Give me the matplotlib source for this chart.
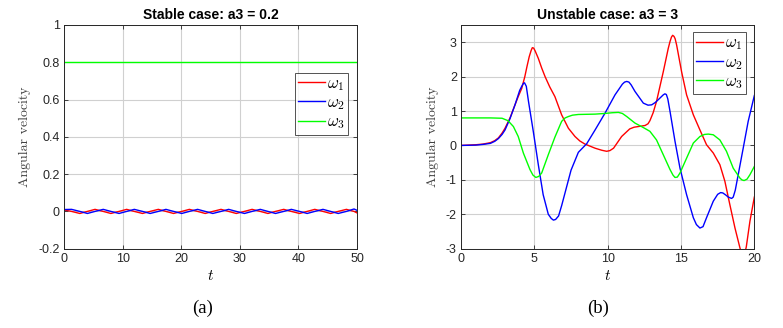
import matplotlib
matplotlib.use("Agg")
import matplotlib.pyplot as plt

# -------------------------------
# DATA
# -------------------------------

# stable case a3 = 0.2, t in [0, 50]
t_stable = [0, 1.3, 2.7, 4.0, 5.3, 6.7, 8.0, 9.4, 10.7, 12.0, 13.4, 14.7,
            16.1, 17.4, 18.7, 20.1, 21.4, 22.8, 24.1, 25.4, 26.8, 28.1,
            29.4, 30.8, 32.1, 33.5, 34.8, 36.1, 37.5, 38.8, 40.2, 41.5,
            42.8, 44.2, 45.5, 46.8, 48.2, 49.5, 50]
w1_stable = [0.008, 0.0, -0.011, 0.0, 0.011, 0.0, -0.011, 0.0, 0.011, 0.0,
             -0.011, 0.0, 0.011, 0.0, -0.011, 0.0, 0.011, 0.0, -0.011, 0.0,
             0.011, 0.0, -0.011, 0.0, 0.011, 0.0, -0.011, 0.0, 0.011, 0.0,
             -0.011, 0.0, 0.011, 0.0, -0.011, 0.0, 0.011, 0.0, -0.008]
w2_stable = [0.01, 0.011, 0.0, -0.011, 0.0, 0.011, 0.0, -0.011, 0.0, 0.011,
             0.0, -0.011, 0.0, 0.011, 0.0, -0.011, 0.0, 0.011, 0.0, -0.011,
             0.0, 0.011, 0.0, -0.011, 0.0, 0.011, 0.0, -0.011, 0.0, 0.011,
             0.0, -0.011, 0.0, 0.011, 0.0, -0.011, 0.0, 0.013, 0.006]
w3_stable = [0.8, 0.8]
t3_stable = [0, 50]

# unstable case a3 = 3, t in [0, 20]
t1_unst = [0, 1.0, 1.5, 2.0, 2.3, 2.55, 2.8, 3.0, 3.34, 3.68, 3.9, 4.14, 4.35,
           4.5, 4.65, 4.78, 4.86, 4.95, 5.05, 5.27, 5.5, 5.73, 6.05, 6.4,
           6.86, 7.32, 7.77, 8.1, 8.45, 9.14, 9.6, 9.93, 10.15, 10.4, 10.95,
           11.5, 11.8, 12.1, 12.55, 12.75, 12.88, 13.1, 13.33, 13.79, 14.13,
           14.25, 14.35, 14.43, 14.52, 14.6, 14.7, 15.04, 15.38, 15.84, 16.29,
           16.74, 17.2, 17.65, 17.99, 18.33, 18.68, 19.02, 19.25, 19.45, 19.7,
           20.0]
w1_unst = [0.0, 0.02, 0.04, 0.08, 0.14, 0.22, 0.36, 0.5, 0.8, 1.18, 1.42, 1.66,
           2.0, 2.3, 2.58, 2.76, 2.84, 2.83, 2.75, 2.53, 2.25, 2.0, 1.7, 1.42,
           0.89, 0.5, 0.26, 0.13, 0.04, -0.08, -0.14, -0.17, -0.15, -0.08,
           0.26, 0.48, 0.53, 0.55, 0.58, 0.63, 0.72, 0.95, 1.28, 2.14, 2.82,
           3.02, 3.15, 3.2, 3.17, 3.1, 2.92, 2.14, 1.47, 0.89, 0.45, 0.02,
           -0.22, -0.56, -1.04, -1.72, -2.4, -2.98, -3.3, -2.95, -2.2, -1.5]

t2_unst = [0, 1.0, 1.5, 2.0, 2.3, 2.55, 2.8, 3.0, 3.34, 3.68, 4.0, 4.14, 4.25,
           4.33, 4.45, 4.6, 4.93, 5.27, 5.6, 5.95, 6.15, 6.3, 6.45, 6.65,
           6.86, 7.09, 7.5, 8.0, 8.57, 9.14, 9.82, 10.5, 11.0, 11.15, 11.3,
           11.45, 11.6, 11.86, 12.43, 12.75, 13.0, 13.25, 13.45, 13.79, 13.9,
           14.0, 14.1, 14.25, 14.59, 14.93, 15.38, 15.84, 16.05, 16.29, 16.5,
           16.74, 17.2, 17.5, 17.7, 17.85, 18.05, 18.22, 18.45, 18.56, 18.7,
           18.9, 19.24, 19.58, 20.0]
w2_unst = [0.0, 0.01, 0.03, 0.06, 0.12, 0.2, 0.32, 0.45, 0.78, 1.18, 1.6, 1.72,
           1.8, 1.82, 1.72, 1.28, 0.4, -0.56, -1.43, -2.0, -2.12, -2.17,
           -2.15, -2.05, -1.75, -1.38, -0.72, -0.2, 0.05, 0.45, 0.94, 1.47,
           1.78, 1.84, 1.86, 1.84, 1.76, 1.57, 1.23, 1.17, 1.18, 1.25, 1.33,
           1.47, 1.5, 1.48, 1.35, 0.99, 0.12, -0.66, -1.43, -2.1, -2.3, -2.4,
           -2.36, -2.1, -1.62, -1.42, -1.37, -1.38, -1.44, -1.5, -1.54, -1.5,
           -1.3, -0.85, -0.08, 0.7, 1.45]

t3_unst = [0, 2.0, 2.8, 3.2, 3.57, 3.9, 4.25, 4.7, 4.9, 5.1, 5.3, 5.5, 5.95,
           6.4, 6.86, 7.1, 7.32, 7.6, 8.0, 9.14, 9.82, 10.3, 10.73, 11.0, 11.3,
           11.86, 12.43, 12.88, 13.33, 13.79, 14.25, 14.45, 14.59, 14.75,
           14.93, 15.38, 15.84, 16.29, 16.6, 16.86, 17.2, 17.65, 18.1, 18.56,
           19.02, 19.15, 19.3, 19.5, 19.7, 20.0]
w3_unst = [0.8, 0.8, 0.79, 0.72, 0.55, 0.26, -0.22, -0.7, -0.86, -0.93, -0.9,
           -0.8, -0.27, 0.24, 0.7, 0.8, 0.84, 0.88, 0.9, 0.91, 0.93, 0.95,
           0.96, 0.93, 0.84, 0.65, 0.52, 0.41, 0.16, -0.27, -0.7, -0.86,
           -0.93, -0.92, -0.8, -0.37, 0.07, 0.26, 0.32, 0.33, 0.31, 0.16,
           -0.17, -0.66, -0.95, -1.0, -1.02, -0.98, -0.85, -0.61]

labels = [r"$\omega_1$", r"$\omega_2$", r"$\omega_3$"]
colors = ["#ff0000", "#0000ff", "#00ff00"]

# -------------------------------
# STYLE
# -------------------------------

plt.rcParams["font.family"] = ["Liberation Sans", "DejaVu Sans"]
plt.rcParams["mathtext.fontset"] = "cm"
plt.rcParams["axes.unicode_minus"] = False

fig = plt.figure(figsize=(7.83, 3.28), dpi=100)
ax1 = fig.add_axes([0.0817, 0.2418, 0.3742, 0.682])
ax2 = fig.add_axes([0.5888, 0.2418, 0.3746, 0.682])


def style_axes(ax, title):
    ax.set_title(title, fontsize=10, fontweight="bold", pad=4)
    ax.grid(True, color="#d0d0d0", linewidth=0.8)
    ax.set_axisbelow(True)
    ax.tick_params(direction="in", length=3, width=0.6, top=True,
                   right=True, labelsize=9, colors="#262626", pad=3)
    for s in ax.spines.values():
        s.set_color("#262626")
        s.set_linewidth(0.7)
    ax.set_xlabel(r"$t$", fontsize=11, labelpad=3)
    ax.set_ylabel("Angular velocity", family="cmr10", fontsize=10,
                  color="#404040", labelpad=5)


def add_legend(ax, anchor):
    leg = ax.legend(loc="upper right", bbox_to_anchor=anchor,
                    fontsize=12, fancybox=False, edgecolor="#262626",
                    handlelength=1.6, handletextpad=0.15, borderpad=0.2,
                    labelspacing=0.15, borderaxespad=0)
    leg.get_frame().set_linewidth(0.7)
    return leg


# -------------------------------
# LEFT: STABLE CASE
# -------------------------------

ax1.plot(t_stable, w1_stable, color=colors[0], lw=1.0, label=labels[0])
ax1.plot(t_stable, w2_stable, color=colors[1], lw=1.0, label=labels[1])
ax1.plot(t3_stable, w3_stable, color=colors[2], lw=1.0, label=labels[2])
ax1.set_xlim(0, 50)
ax1.set_ylim(-0.2, 1)
ax1.set_xticks([0, 10, 20, 30, 40, 50])
ax1.set_yticks([-0.2, 0, 0.2, 0.4, 0.6, 0.8, 1])
ax1.set_yticklabels(["-0.2", "0", "0.2", "0.4", "0.6", "0.8", "1"])
style_axes(ax1, "Stable case: a3 = 0.2")
add_legend(ax1, (0.97, 0.787))

# -------------------------------
# RIGHT: UNSTABLE CASE
# -------------------------------

ax2.plot(t1_unst, w1_unst, color=colors[0], lw=1.0, label=labels[0])
ax2.plot(t2_unst, w2_unst, color=colors[1], lw=1.0, label=labels[1])
ax2.plot(t3_unst, w3_unst, color=colors[2], lw=1.0, label=labels[2])
ax2.set_xlim(0, 20)
ax2.set_ylim(-3, 3.5)
ax2.set_xticks([0, 5, 10, 15, 20])
ax2.set_yticks([-3, -2, -1, 0, 1, 2, 3])
style_axes(ax2, "Unstable case: a3 = 3")
add_legend(ax2, (0.973, 0.968))

# -------------------------------
# CAPTIONS
# -------------------------------

fig.text(203 / 783, 0.06, "(a)", family="Liberation Serif", fontsize=13.5,
         ha="center", va="center")
fig.text(598 / 783, 0.06, "(b)", family="Liberation Serif", fontsize=13.5,
         ha="center", va="center")

fig.savefig("out.png", dpi=100)
print("Saved: out.png")
